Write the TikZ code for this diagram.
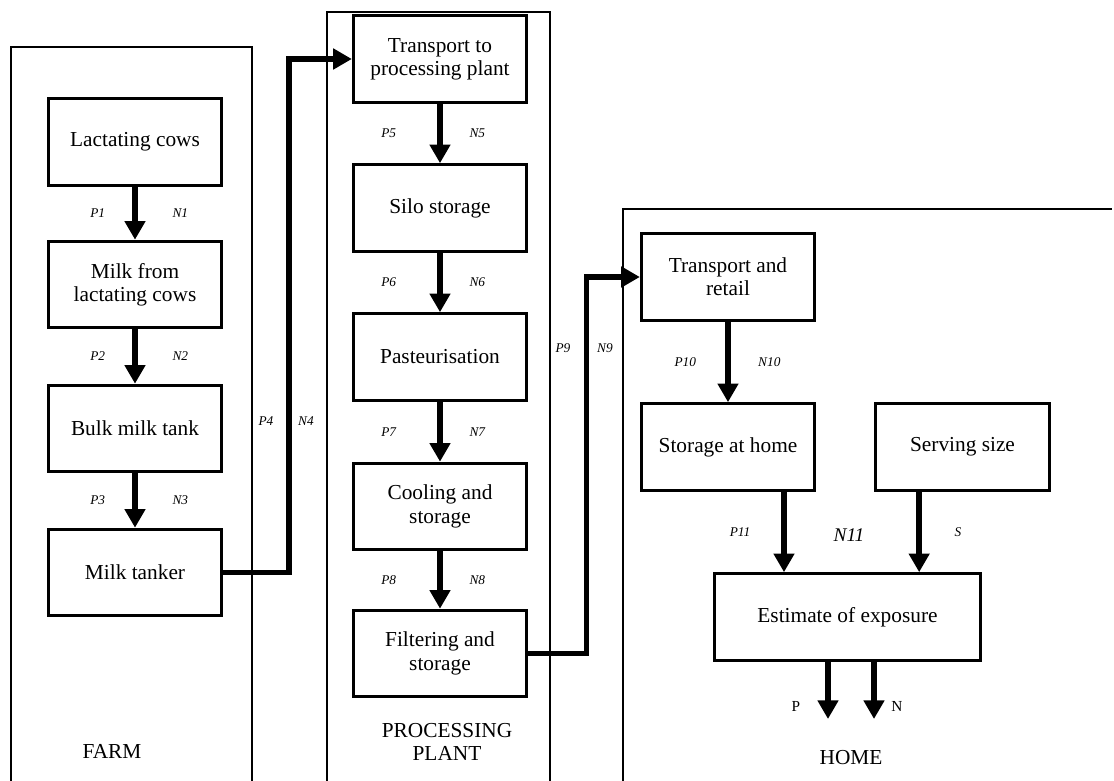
\documentclass[tikz,border=0pt]{standalone}
\usepackage{fontspec}
\setmainfont{Liberation Serif}
\usetikzlibrary{arrows.meta}

\tikzset{every picture/.style={line width=0.75pt}}
\tikzset{
  stage/.style={draw, line width=2.2pt, minimum width=130pt, minimum height=65pt, align=center, inner sep=2pt, font=\fontsize{16}{17.5}\selectfont},
  flow/.style={line width=4.2pt, -{Triangle[length=14pt,width=15pt]}},
  panel/.style={line width=1.6pt},
  plab/.style={inner sep=0.75pt, font=\fontsize{10}{11}\selectfont\itshape},
  zone/.style={inner sep=0.75pt, align=center, font=\fontsize{16}{17.5}\selectfont},
}

\begin{document}
\begin{tikzpicture}[x=0.75pt,y=0.75pt,yscale=-1,xscale=1]
\useasboundingbox (0,0) rectangle (1114,781);

%Shape: Panels
\draw[panel] (11,781) -- (11,47) -- (252,47) -- (252,781);
\draw[panel] (327,781) -- (327,12) -- (550,12) -- (550,781);
\draw[panel] (623,781) -- (623,209) -- (1112,209);

% Farm
\node[stage] (cows) at (135,142) {Lactating cows};
\node[stage] (milk) at (135,284.5) {Milk from\\lactating cows};
\node[stage] (bulk) at (135,428.5) {Bulk milk tank};
\node[stage] (tanker) at (135,572.5) {Milk tanker};

% Processing plant
\node[stage] (transport) at (440,59) {Transport to\\processing plant};
\node[stage] (silo) at (440,208) {Silo storage};
\node[stage] (past) at (440,357) {Pasteurisation};
\node[stage] (cool) at (440,506.5) {Cooling and\\storage};
\node[stage] (filter) at (440,653.5) {Filtering and\\storage};

% Home
\node[stage] (retail) at (728,277) {Transport and\\retail};
\node[stage] (storage) at (728,447) {Storage at home};
\node[stage] (serving) at (962.5,447) {Serving size};
\node[stage, minimum width=200pt] (estimate) at (847.5,617) {Estimate of exposure};

%Straight Lines: chains with P/N labels
\foreach \a/\b/\i in {cows/milk/1,milk/bulk/2,bulk/tanker/3}
  \draw[flow] (\a) -- (\b) node[plab,midway,xshift=-28pt] (p\i) {P\i} node[plab,midway,xshift=34pt] (n\i) {N\i};
\foreach \a/\b/\i in {transport/silo/5,silo/past/6,past/cool/7,cool/filter/8}
  \draw[flow] (\a) -- (\b) node[plab,midway,xshift=-38.5pt] (p\i) {P\i} node[plab,midway,xshift=28pt] (n\i) {N\i};
\draw[flow] (retail) -- (storage) node[plab,midway,xshift=-32pt] (p10) {P10} node[plab,midway,xshift=31pt] (n10) {N10};

%Straight Lines: between panels
\draw[flow] (tanker.east) -| ([xshift=-47pt]transport.west) -- (transport.west);
\draw[flow] (filter.east) -| ([xshift=-40pt]retail.west) -- (retail.west);

%Straight Lines: into and out of the estimate
\coordinate (sa) at ([xshift=42pt]storage.south);
\coordinate (sb) at ([xshift=-32.5pt]serving.south);
\draw[flow] (sa) -- (sa |- estimate.north);
\draw[flow] (sb) -- (sb |- estimate.north);
\coordinate (outp) at (828,719);
\coordinate (outn) at (874,719);
\draw[flow] (outp |- estimate.south) -- (outp);
\draw[flow] (outn |- estimate.south) -- (outn);

% Text Node
\node[plab] (p4) at (266,421) {P4};
\node[plab] (n4) at (306,421) {N4};
\node[plab] (p9) at (563,348) {P9};
\node[plab] (n9) at (605,348) {N9};
\node[plab] (p11) at (740,532) {P11};
\node[plab, font=\fontsize{14.5}{16}\selectfont\itshape] (n11) at (849,535) {N11};
\node[plab] (s) at (958,532) {S};
\node[inner sep=0.75pt, font=\fontsize{11.5}{13}\selectfont] (p) at (796,706) {P};
\node[inner sep=0.75pt, font=\fontsize{11.5}{13}\selectfont] (n) at (897,706) {N};

% Text Node: panel names
\node[zone] (farm) at (112,751) {FARM};
\node[zone] (plant) at (447,742) {PROCESSING\\PLANT};
\node[zone] (home) at (851,758) {HOME};

\end{tikzpicture}
\end{document}
